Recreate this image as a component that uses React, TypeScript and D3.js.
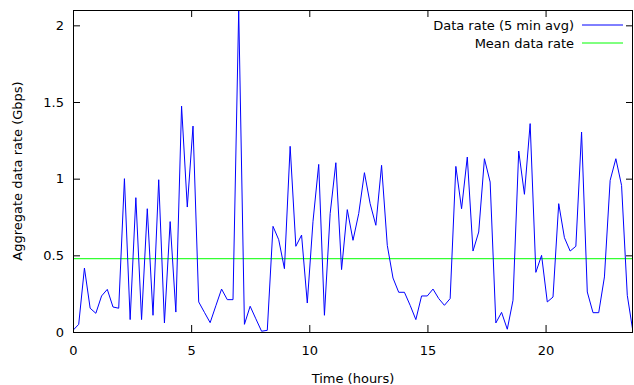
import React, { useRef, useEffect } from 'react';
import * as d3 from 'd3';

// 5 min averaged aggregate rate samples (Gbps)
const rateValues = [
  0.011, 0.05, 0.417, 0.155, 0.122, 0.235, 0.278, 0.163, 0.155, 1.0,
  0.081, 0.876, 0.081, 0.804, 0.109, 0.993, 0.059, 0.72, 0.13, 1.473,
  0.815, 1.343, 0.196, 0.128, 0.061, 0.171, 0.28, 0.211, 0.211, 2.1,
  0.05, 0.168, 0.086, 0.005, 0.011, 0.689, 0.602, 0.413, 1.211, 0.559,
  0.632, 0.189, 0.722, 1.093, 0.109, 0.772, 1.104, 0.407, 0.798, 0.598,
  0.772, 1.039, 0.837, 0.696, 1.087, 0.565, 0.352, 0.259, 0.259, 0.174,
  0.081, 0.235, 0.235, 0.28, 0.218, 0.174, 0.218, 1.08, 0.804, 1.141,
  0.528, 0.652, 1.13, 0.978, 0.059, 0.128, 0.018, 0.207, 1.18, 0.898,
  1.359, 0.389, 0.5, 0.196, 0.228, 0.837, 0.615, 0.528, 0.559, 1.304,
  0.261, 0.126, 0.126, 0.359, 0.989, 1.13, 0.956, 0.239, 0.0
];
const timeSpanHours = [0, 23.7];
const meanRate = 0.478;

const xTicks = [0, 5, 10, 15, 20];
const yTicks = [0, 0.5, 1, 1.5, 2];
const seriesNames = ['Data rate (5 min avg)', 'Mean data rate'];
const seriesColors = ['#0000ff', '#00ff00'];
const xTitle = 'Time (hours)';
const yTitle = 'Aggregate data rate (Gbps)';

const WIDTH = 634;
const HEIGHT = 385;
const margin = { top: 10, right: 1, bottom: 53, left: 73 };
const FONT = '"DejaVu Sans", sans-serif';
const FONT_SIZE = 13;
const TICK = 7;

const App = () => {
  const svgRef = useRef<SVGSVGElement>(null);

  useEffect(() => {
    if (!svgRef.current) return;
    const svg = d3.select(svgRef.current);
    svg.selectAll('*').remove();

    const left = margin.left;
    const right = WIDTH - margin.right;
    const top = margin.top;
    const bottom = HEIGHT - margin.bottom;

    const x = d3.scaleLinear().domain(timeSpanHours).range([left, right]);
    const y = d3.scaleLinear().domain([0, d3.max(rateValues) as number]).range([bottom, top]);
    const idx = d3.scaleLinear().domain([0, rateValues.length - 1]).range(timeSpanHours);

    svg.append('clipPath').attr('id', 'plot-clip')
      .append('rect')
      .attr('x', left).attr('y', top - 1)
      .attr('width', right - left).attr('height', bottom - top + 2);

    const fmt = (d: d3.NumberValue) => String(+d);

    const styleAxis = (g: d3.Selection<SVGGElement, unknown, null, undefined>) => {
      g.attr('font-family', FONT).attr('font-size', FONT_SIZE);
      g.select('.domain').remove();
      g.selectAll('.tick line').attr('stroke', '#000');
      g.selectAll('.tick text').attr('fill', '#000');
    };

    svg.append('g')
      .attr('transform', `translate(0,${bottom})`)
      .call(d3.axisBottom(x).tickValues(xTicks).tickSize(-TICK).tickPadding(14).tickFormat(fmt))
      .call(styleAxis);
    svg.append('g')
      .attr('transform', `translate(0,${top})`)
      .call(d3.axisTop(x).tickValues(xTicks).tickSize(-TICK).tickFormat(() => ''))
      .call(styleAxis);
    svg.append('g')
      .attr('transform', `translate(${left},0)`)
      .call(d3.axisLeft(y).tickValues(yTicks).tickSize(-TICK).tickPadding(9).tickFormat(fmt))
      .call(styleAxis);
    svg.append('g')
      .attr('transform', `translate(${right},0)`)
      .call(d3.axisRight(y).tickValues(yTicks).tickSize(-TICK).tickFormat(() => ''))
      .call(styleAxis);

    // mean line
    svg.append('line')
      .attr('x1', left).attr('x2', right)
      .attr('y1', y(meanRate)).attr('y2', y(meanRate))
      .attr('stroke', seriesColors[1]).attr('stroke-width', 1);

    // data rate line
    const line = d3.line<number>()
      .x((d, i) => x(idx(i)))
      .y(d => y(d));
    svg.append('path')
      .datum(rateValues)
      .attr('clip-path', 'url(#plot-clip)')
      .attr('d', line)
      .attr('fill', 'none')
      .attr('stroke', seriesColors[0])
      .attr('stroke-width', 1)
      .attr('stroke-linejoin', 'miter');

    // border
    svg.append('rect')
      .attr('x', left + 0.5).attr('y', top + 0.5)
      .attr('width', right - left - 1).attr('height', bottom - top)
      .attr('fill', 'none').attr('stroke', '#000').attr('stroke-width', 1);

    // legend
    const legend = svg.append('g').attr('font-family', FONT).attr('font-size', FONT_SIZE);
    seriesNames.forEach((name, i) => {
      const ly = 25 + i * 18;
      legend.append('text')
        .attr('x', 574).attr('y', ly).attr('dy', '0.35em')
        .attr('text-anchor', 'end').text(name);
      legend.append('line')
        .attr('x1', 582).attr('x2', 623)
        .attr('y1', ly).attr('y2', ly)
        .attr('stroke', seriesColors[i]).attr('stroke-width', 1);
    });

    // axis titles
    svg.append('text')
      .attr('x', (left + right) / 2).attr('y', 378).attr('dy', '0.35em')
      .attr('text-anchor', 'middle')
      .attr('font-family', FONT).attr('font-size', FONT_SIZE)
      .text(xTitle);
    svg.append('text')
      .attr('transform', `translate(17,${(top + bottom) / 2}) rotate(-90)`)
      .attr('dy', '0.35em')
      .attr('text-anchor', 'middle')
      .attr('font-family', FONT).attr('font-size', FONT_SIZE)
      .text(yTitle);
  }, []);

  return (
    <svg
      ref={svgRef}
      width={WIDTH}
      height={HEIGHT}
      style={{ position: 'absolute', left: 0, top: 0, background: '#fff' }}
    />
  );
};

export default App;
